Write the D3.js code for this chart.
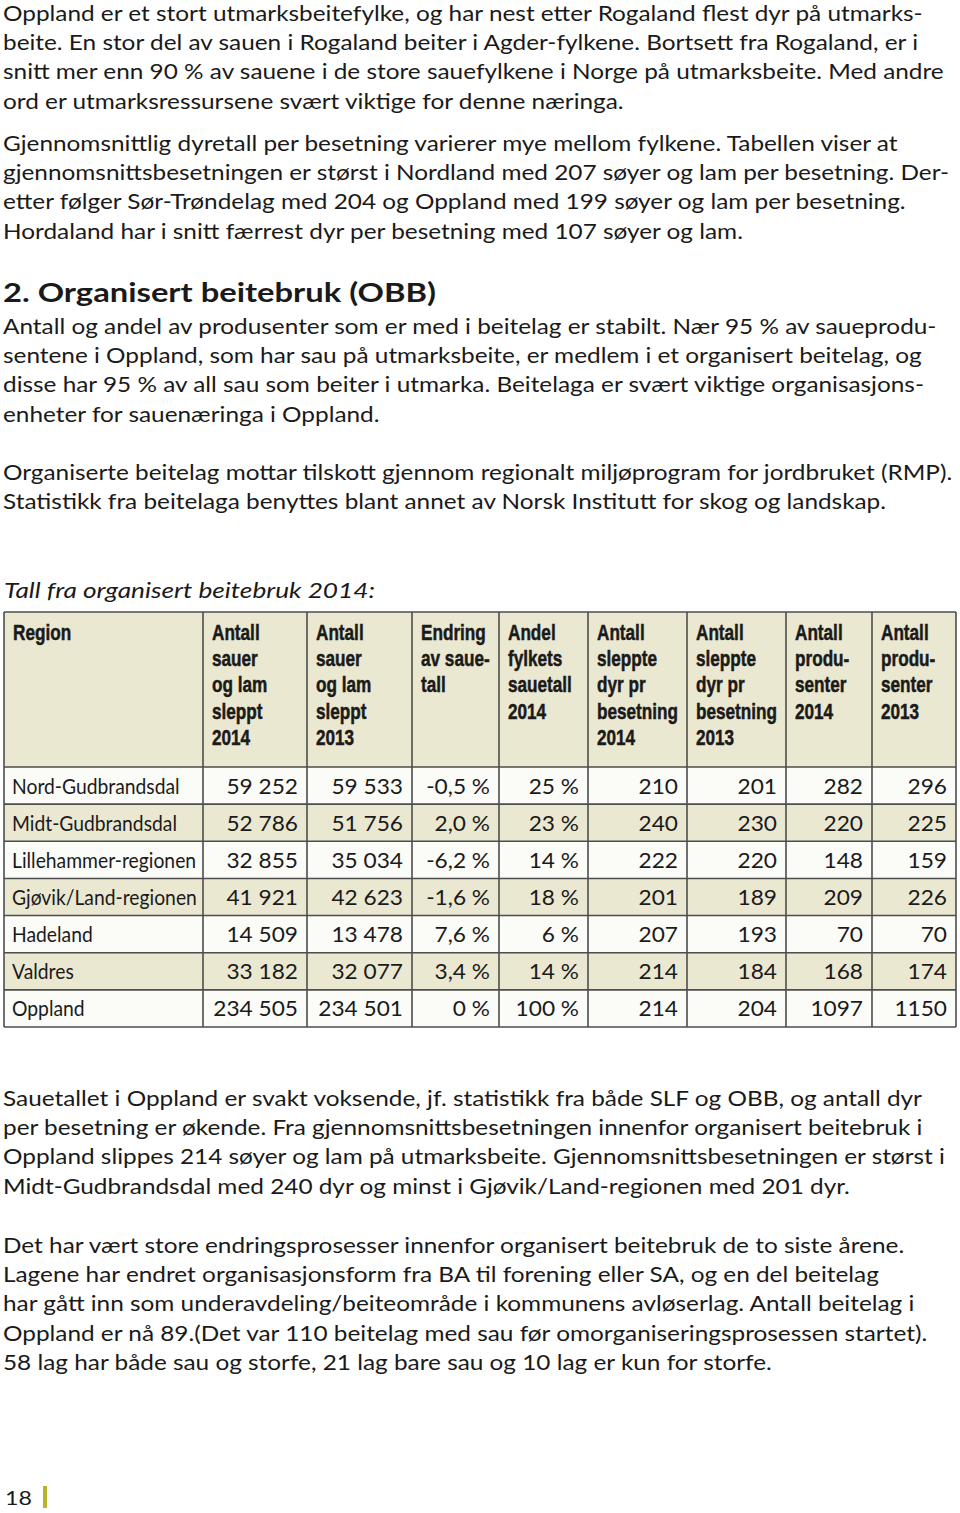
<!DOCTYPE html>
<html>
<head>
<meta charset="utf-8">
<script src="https://cdn.jsdelivr.net/npm/d3@7"></script>
<style>
  body { margin: 0; background: #fff; }
  svg { display: block; }
</style>
</head>
<body>
<script>
// ---- data ----
const regions = ['Nord-Gudbrandsdal', 'Midt-Gudbrandsdal', 'Lillehammer-regionen', 'Gjøvik/Land-regionen', 'Hadeland', 'Valdres', 'Oppland']
const sheep2014 = [59252, 52786, 32855, 41921, 14509, 33182, 234505]
const sheep2013 = [59533, 51756, 35034, 42623, 13478, 32077, 234501]
const change = [-0.5, 2.0, -6.2, -1.6, 7.6, 3.4, 0]
const share = [25, 23, 14, 18, 6, 14, 100]
const perHerd2014 = [210, 240, 222, 201, 207, 214, 214]
const perHerd2013 = [201, 230, 220, 189, 193, 184, 204]
const producers2014 = [282, 220, 148, 209, 70, 168, 1097]
const producers2013 = [296, 225, 159, 226, 70, 174, 1150]

const headers = [
	['Region'],
	['Antall', 'sauer', 'og lam', 'sleppt', '2014'],
	['Antall', 'sauer', 'og lam', 'sleppt', '2013'],
	['Endring', 'av saue-', 'tall'],
	['Andel', 'fylkets', 'sauetall', '2014'],
	['Antall', 'sleppte', 'dyr pr', 'besetning', '2014'],
	['Antall', 'sleppte', 'dyr pr', 'besetning', '2013'],
	['Antall', 'produ-', 'senter', '2014'],
	['Antall', 'produ-', 'senter', '2013']
]

const para1 = [
	'Oppland er et stort utmarksbeitefylke, og har nest etter Rogaland flest dyr på utmarks-',
	'beite. En stor del av sauen i Rogaland beiter i Agder-fylkene. Bortsett fra Rogaland, er i',
	'snitt mer enn 90 % av sauene i de store sauefylkene i Norge på utmarksbeite. Med andre',
	'ord er utmarksressursene svært viktige for denne næringa.'
]
const para2 = [
	'Gjennomsnittlig dyretall per besetning varierer mye mellom fylkene. Tabellen viser at',
	'gjennomsnittsbesetningen er størst i Nordland med 207 søyer og lam per besetning. Der-',
	'etter følger Sør-Trøndelag med 204 og Oppland med 199 søyer og lam per besetning.',
	'Hordaland har i snitt færrest dyr per besetning med 107 søyer og lam.'
]
const heading = '2. Organisert beitebruk (OBB)'
const para3 = [
	'Antall og andel av produsenter som er med i beitelag er stabilt. Nær 95 % av saueprodu-',
	'sentene i Oppland, som har sau på utmarksbeite, er medlem i et organisert beitelag, og',
	'disse har 95 % av all sau som beiter i utmarka. Beitelaga er svært viktige organisasjons-',
	'enheter for sauenæringa i Oppland.'
]
const para4 = [
	'Organiserte beitelag mottar tilskott gjennom regionalt miljøprogram for jordbruket (RMP).',
	'Statistikk fra beitelaga benyttes blant annet av Norsk Institutt for skog og landskap.'
]
const caption = 'Tall fra organisert beitebruk 2014:'
const para5 = [
	'Sauetallet i Oppland er svakt voksende, jf. statistikk fra både SLF og OBB, og antall dyr',
	'per besetning er økende. Fra gjennomsnittsbesetningen innenfor organisert beitebruk i',
	'Oppland slippes 214 søyer og lam på utmarksbeite. Gjennomsnittsbesetningen er størst i',
	'Midt-Gudbrandsdal med 240 dyr og minst i Gjøvik/Land-regionen med 201 dyr.'
]
const para6 = [
	'Det har vært store endringsprosesser innenfor organisert beitebruk de to siste årene.',
	'Lagene har endret organisasjonsform fra BA til forening eller SA, og en del beitelag',
	'har gått inn som underavdeling/beiteområde i kommunens avløserlag. Antall beitelag i',
	'Oppland er nå 89.(Det var 110 beitelag med sau før omorganiseringsprosessen startet).',
	'58 lag har både sau og storfe, 21 lag bare sau og 10 lag er kun for storfe.'
]
const pageNumber = '18'

// ---- layout ----
const W = 960, H = 1513
const bodyFont = 'Lato, "Open Sans", sans-serif'
const headFont = '"Liberation Sans Narrow", "Liberation Sans", sans-serif'
const ink = '#1a1a1a'
const widen = 1.16   // the original face is wider than Lato

const svg = d3.select('body').append('svg')
	.attr('width', W).attr('height', H)

svg.append('rect').attr('width', W).attr('height', H).attr('fill', '#fff')

// paragraph blocks: first baseline of each
const blocks = [
	{lines: para1, y: 21},
	{lines: para2, y: 151},
	{lines: para3, y: 334},
	{lines: para4, y: 480},
	{lines: para5, y: 1106},
	{lines: para6, y: 1253}
]
const lineGap = 29.2
const textX = 3

blocks.forEach(b => {
	svg.append('g')
		.attr('transform', `scale(${widen},1)`)
		.selectAll('text')
		.data(b.lines)
		.join('text')
		.attr('x', textX/widen)
		.attr('y', (d, i) => b.y + i*lineGap)
		.style('font', `21px ${bodyFont}`)
		.attr('fill', ink)
		.text(d => d)
})

svg.append('text')
	.attr('x', textX).attr('y', 302)
	.attr('textLength', 433).attr('lengthAdjust', 'spacingAndGlyphs')
	.style('font', `bold 26px ${bodyFont}`)
	.attr('fill', ink)
	.text(heading)

svg.append('text')
	.attr('x', textX + 1).attr('y', 598)
	.attr('textLength', 371).attr('lengthAdjust', 'spacingAndGlyphs')
	.style('font', `italic 21px ${bodyFont}`)
	.attr('fill', ink)
	.text(caption)

// ---- table ----
const colWidths = [199, 104, 105, 87, 89, 99, 99, 86, 84]
const tableX = 4, headTop = 612, headH = 155, rowTop = 767, tableBottom = 1027
const colEdges = [tableX]
colWidths.forEach(w => colEdges.push(colEdges[colEdges.length-1] + w))
const tableRight = colEdges[colEdges.length-1]
const colLeft = i => colEdges[i]
const colRight = i => colEdges[i+1]

const y = d3.scaleBand().domain(regions).range([rowTop, tableBottom])

const nb = d3.formatLocale({decimal: ',', thousands: '\u00a0', grouping: [3], currency: ['', ''], minus: '-'})
const fThou = nb.format(',d')
const fDec = nb.format('.1f')
const fmtChange = v => (v === 0 ? '0' : fDec(v)) + ' %'

const columns = [
	regions,
	sheep2014.map(fThou),
	sheep2013.map(fThou),
	change.map(fmtChange),
	share.map(v => v + ' %'),
	perHerd2014.map(String),
	perHerd2013.map(String),
	producers2014.map(String),
	producers2013.map(String)
]

const table = svg.append('g')

// header background
table.append('rect')
	.attr('x', tableX).attr('y', headTop)
	.attr('width', tableRight - tableX).attr('height', headH)
	.attr('fill', '#ebe8d2')

// row backgrounds
table.selectAll('rect.row')
	.data(regions)
	.join('rect')
	.attr('class', 'row')
	.attr('x', tableX).attr('y', d => y(d))
	.attr('width', tableRight - tableX).attr('height', y.bandwidth())
	.attr('fill', (d, i) => i%2 ? '#ebe8d2' : '#fbfbf8')

// header text (condensed bold)
headers.forEach((lines, c) => {
	table.append('g').selectAll('text')
		.data(lines)
		.join('text')
		.attr('transform', (d, i) => `translate(${colLeft(c) + 9},${640 + i*26.2}) scale(0.78,1)`)
		.style('font', `bold 22px ${headFont}`)
		.attr('fill', ink)
		.attr('stroke', ink).attr('stroke-width', 0.5)
		.text(d => d)
})

// cell text
columns.forEach((vals, c) => {
	let sx = c === 0 ? 0.92 : 1.08
	table.append('g').selectAll('text')
		.data(vals)
		.join('text')
		.attr('transform', (d, i) => `translate(${c === 0 ? colLeft(c) + 8 : colRight(c) - 9},${y(regions[i]) + y.bandwidth()/2 + 8}) scale(${sx},1)`)
		.attr('text-anchor', c === 0 ? 'start' : 'end')
		.style('font', `21px ${bodyFont}`)
		.attr('fill', ink)
		.text(d => d)
})

// grid lines
const lineColor = '#4d4d4d'
const hLines = [headTop, rowTop].concat(regions.map(r => y(r) + y.bandwidth()))
table.selectAll('line.h')
	.data(hLines)
	.join('line')
	.attr('x1', tableX).attr('x2', tableRight)
	.attr('y1', d => d).attr('y2', d => d)
	.attr('stroke', lineColor).attr('stroke-width', 1.6)

table.selectAll('line.v')
	.data(colEdges)
	.join('line')
	.attr('x1', d => d).attr('x2', d => d)
	.attr('y1', headTop).attr('y2', tableBottom)
	.attr('stroke', lineColor).attr('stroke-width', 1.6)

// ---- footer ----
svg.append('text')
	.attr('transform', `translate(5,1505) scale(${widen},1)`)
	.style('font', `20px ${bodyFont}`)
	.attr('fill', ink)
	.text(pageNumber)

svg.append('rect')
	.attr('x', 43).attr('y', 1486)
	.attr('width', 4).attr('height', 22)
	.attr('fill', '#b7b42b')
</script>
</body>
</html>
